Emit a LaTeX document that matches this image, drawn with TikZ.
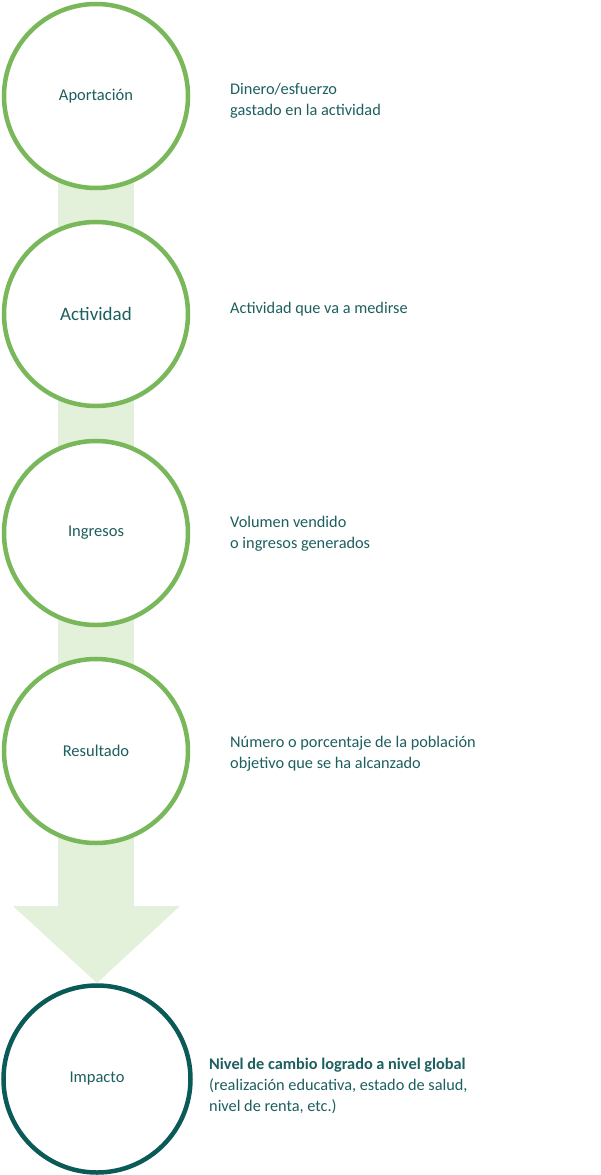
\documentclass[tikz,border=0pt]{standalone}
\usepackage{fontspec}
\setmainfont{Carlito}
\definecolor{ringgreen}{HTML}{78B85A}
\definecolor{arrowfill}{HTML}{E3F0DA}
\definecolor{tealdark}{HTML}{0A5A58}
\definecolor{textteal}{HTML}{1D5E5E}
\begin{document}
\begin{tikzpicture}[x=1pt,y=-1pt,
  ring/.style={circle,draw=ringgreen,line width=4.5pt,fill=white,minimum size=184pt,inner sep=0pt,text=textteal,font=\fontsize{16.5}{19}\selectfont},
  impring/.style={ring,draw=tealdark,minimum size=187pt},
  desc/.style={anchor=west,align=left,text=textteal,inner sep=0pt,font=\fontsize{16.3}{21}\selectfont}]
\useasboundingbox (0,0) rectangle (600,1175);
% arrow
\fill[arrowfill] (58,96) rectangle (134,907);
\fill[arrowfill] (13,906) -- (180,906) -- (97,983) -- cycle;
% circles
\node[ring] (a) at (96,96) {Aportación};
\node[ring,font=\fontsize{19}{22}\selectfont] (b) at (96,314) {Actividad};
\node[ring] (c) at (96,533) {Ingresos};
\node[ring] (d) at (96,751) {Resultado};
\node[impring] (e) at (97,1079) {Impacto};
% descriptions
\node[desc] (ta) at (230,101) {Dinero/esfuerzo\\gastado en la actividad};
\node[desc] (tb) at (230,309) {Actividad que va a medirse};
\node[desc] (tc) at (230,534) {Volumen vendido\\o ingresos generados};
\node[desc] (td) at (230,754) {Número o porcentaje de la población\\objetivo que se ha alcanzado};
\node[desc] (te) at (209,1086) {\textbf{Nivel de cambio logrado a nivel global}\\(realización educativa, estado de salud,\\nivel de renta, etc.)};
\end{tikzpicture}
\end{document}
